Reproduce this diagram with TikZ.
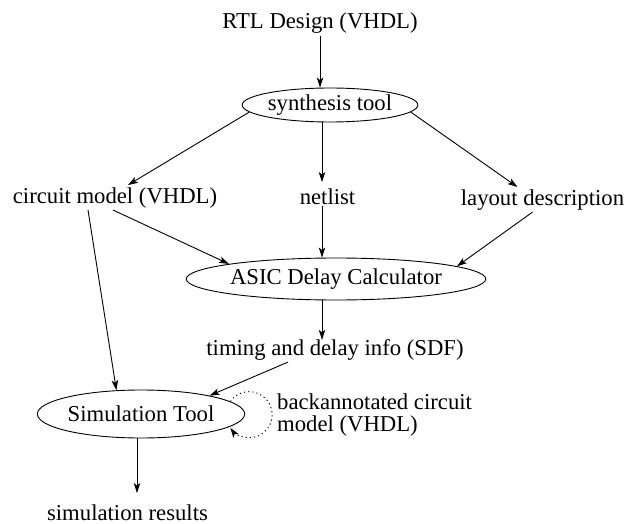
\documentclass[tikz,border=0pt]{standalone}
\usepackage{fontspec}
\setmainfont{Liberation Serif}
\usetikzlibrary{arrows.meta,shapes.geometric}
\begin{document}
\begin{tikzpicture}[x=1pt,y=1pt,
  font=\fontsize{22.7}{22}\selectfont,
  txt/.style={inner sep=2pt,anchor=base},
  ell/.style={draw,ellipse,inner sep=0pt,line width=0.9pt},
  arr/.style={line width=0.9pt,-{Stealth[length=10pt,width=6.5pt,inset=2.5pt]}},
  loopline/.style={line width=0.9pt,dash pattern=on 1.2pt off 3pt,-{Stealth[length=10pt,width=6.5pt,inset=2.5pt]}}]
\useasboundingbox (0,0) rectangle (629,-524);
\node[txt] (rtl) at (320,-29) {RTL Design (VHDL)};
\node[ell,minimum width=165pt,minimum height=34pt] (syn) at (330,-105) {synthesis tool};
\node[txt] (circ) at (115,-203) {circuit model (VHDL)};
\node[txt] (net) at (327.5,-204) {netlist};
\node[txt] (layout) at (542.5,-205) {layout description};
\node[ell,minimum width=243pt,minimum height=42pt] (asic) at (336,-279) {ASIC Delay Calculator};
\node[txt] (timing) at (335,-355) {timing and delay info (SDF)};
\node[ell,minimum width=182pt,minimum height=48pt] (sim) at (141,-414) {Simulation Tool};
\node[inner sep=2pt,anchor=west,align=left] (back) at (275,-414.7) {backannotated circuit\\model (VHDL)};
\node[txt] (res) at (127.5,-520) {simulation results};

\draw[arr] (rtl.south) -- (rtl.south |- syn.north);
\draw[arr] (syn.185) -- ([xshift=13pt]circ.north);
\draw[arr] ([xshift=-5.5pt]net.north |- syn.south) -- ([xshift=-5.5pt,yshift=4pt]net.north);
\draw[arr] (syn.-5) -- ([xshift=-25pt]layout.north);
\draw[arr] ([xshift=-2pt]circ.south) -- (asic.172);
\draw[arr] ([xshift=-5.5pt]net.south) -- ([xshift=-5.5pt]net.south |- asic.north);
\draw[arr] ([xshift=-10pt]layout.south) -- (asic.6);
\draw[arr] ([xshift=-27pt]circ.south) -- (sim.136);
\draw[arr] ([xshift=-14pt]asic.south) -- ([xshift=-13pt,yshift=-3pt]timing.north);
\draw[arr] ([xshift=-47pt]timing.south) -- (sim.15);
\draw[loopline] (sim.8) arc[start angle=145,end angle=-145,radius=23];
\draw[arr,shorten >=9pt] ([xshift=-4pt]sim.south) -- ([xshift=-4pt]sim.south |- res.north);
\end{tikzpicture}
\end{document}
